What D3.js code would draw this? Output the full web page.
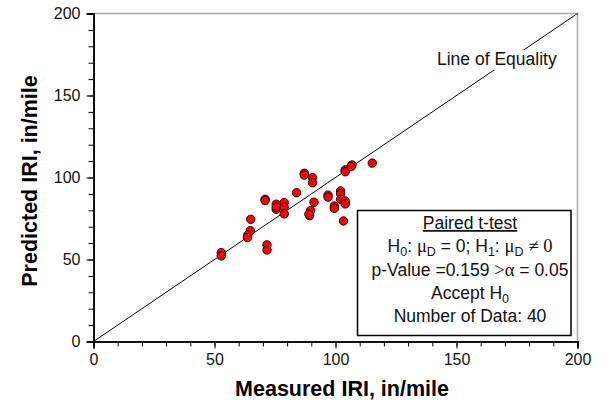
<!DOCTYPE html>
<html>
<head>
<meta charset="utf-8">
<script src="https://cdn.jsdelivr.net/npm/d3@7"></script>
<style>
  html, body { margin: 0; padding: 0; background: #fff; }
  svg { display: block; font-family: "Liberation Sans", Arial, sans-serif; }
</style>
</head>
<body>
<svg id="chart" width="616" height="406"></svg>
<script>
// ---- data ----
const measured = [52.8, 52.8, 71.7, 71.7, 65.0, 64.8, 63.8, 63.6, 70.9, 70.9,
                  75.5, 75.5, 78.8, 78.8, 78.8, 83.9, 87.1, 87.1, 90.5, 90.5,
                  91.1, 89.7, 89.3, 89.0, 96.9, 96.9, 99.5, 99.5, 102.1, 102.1,
                  102.1, 104.0, 104.0, 103.3, 104.0, 104.0, 106.8, 106.4, 115.2, 75.5];
const predicted = [54.2, 52.2, 58.9, 55.8, 74.5, 67.6, 65.0, 63.4, 86.7, 85.9,
                   83.7, 80.6, 84.7, 81.9, 77.8, 90.7, 102.6, 101.5, 99.9, 96.8,
                   84.9, 79.8, 76.7, 77.6, 89.2, 88.1, 82.6, 81.2, 91.8, 90.1,
                   86.7, 85.7, 83.9, 73.5, 104.6, 103.5, 107.6, 106.6, 108.8, 82.0];
const majorTicks = [0, 50, 100, 150, 200];
const minorTicks = d3.range(0, 201, 10);
const equalityLine = [0, 200];
const xTitle = "Measured IRI, in/mile";
const yTitle = "Predicted IRI, in/mile";
const lineLabel = "Line of Equality";

const svg = d3.select("#chart");
const x = d3.scaleLinear().domain([0, 200]).range([93.5, 577.5]);
const y = d3.scaleLinear().domain([0, 200]).range([341.5, 13.5]);

// frame (top/right gray)
svg.append("path")
  .attr("d", `M${x(0)},${y(200)}H${x(200)}V${y(0)}`)
  .attr("fill", "none").attr("stroke", "#a8a8a8").attr("stroke-width", 1.5);

// equality line
svg.append("line")
  .attr("x1", x(equalityLine[0])).attr("y1", y(equalityLine[0]))
  .attr("x2", x(equalityLine[1])).attr("y2", y(equalityLine[1]))
  .attr("stroke", "#000").attr("stroke-width", 1);

// label with white background
const lbl = svg.append("g");
const lblText = lbl.append("text")
  .attr("x", 437).attr("y", 65)
  .attr("font-size", 17.5).attr("fill", "#111")
  .text(lineLabel);
const bb = lblText.node().getBBox();
lbl.insert("rect", "text")
  .attr("x", bb.x - 2).attr("y", bb.y + 1).attr("width", bb.width + 4).attr("height", bb.height)
  .attr("fill", "#fff");

// axes
const xMinor = d3.axisBottom(x).tickValues(minorTicks).tickSize(5).tickFormat("");
const xMajor = d3.axisBottom(x).tickValues(majorTicks).tickSize(7).tickPadding(5);
const yMinor = d3.axisLeft(y).tickValues(minorTicks).tickSize(5).tickFormat("");
const yMajor = d3.axisLeft(y).tickValues(majorTicks).tickSize(7).tickPadding(6);

function style(g) {
  g.selectAll("path.domain").attr("stroke", "#000").attr("stroke-width", 1.5);
  g.selectAll(".tick line").attr("stroke", "#000").attr("stroke-width", 1);
  g.selectAll(".tick text").attr("font-size", 16).attr("fill", "#111")
    .attr("font-family", '"Liberation Sans", Arial, sans-serif');
}
svg.append("g").attr("transform", `translate(0,${y(0)})`).call(xMinor).call(style);
svg.append("g").attr("transform", `translate(0,${y(0)})`).call(xMajor).call(style);
svg.append("g").attr("transform", `translate(${x(0)},0)`).call(yMinor).call(style);
svg.append("g").attr("transform", `translate(${x(0)},0)`).call(yMajor).call(style);

// points
const pts = measured.map((m, i) => ({ m, p: predicted[i] }));
svg.append("g").selectAll("circle").data(pts).join("circle")
  .attr("cx", d => x(d.m)).attr("cy", d => y(d.p)).attr("r", 4.2)
  .attr("fill", "#ff0000").attr("stroke", "#2a0000").attr("stroke-width", 1);

// titles
svg.append("text")
  .attr("x", 342).attr("y", 396)
  .attr("text-anchor", "middle").attr("font-size", 21.5).attr("font-weight", "bold")
  .attr("fill", "#000").text(xTitle);
svg.append("text")
  .attr("transform", "translate(37,181) rotate(-90)")
  .attr("text-anchor", "middle").attr("font-size", 21.5).attr("font-weight", "bold")
  .attr("fill", "#000").text(yTitle);

// stats box
svg.append("rect")
  .attr("x", 357.5).attr("y", 210.5).attr("width", 213.5).attr("height", 125)
  .attr("fill", "#fff").attr("stroke", "#000").attr("stroke-width", 1.5);

const cx = 470;
const serif = '"Liberation Serif", "Times New Roman", serif';
function line(yy, parts) {
  const t = svg.append("text").attr("x", cx).attr("y", yy)
    .attr("text-anchor", "middle").attr("font-size", 17.5).attr("fill", "#111");
  parts.forEach(p => {
    const s = t.append("tspan").text(p.t);
    if (p.serif) s.attr("font-family", serif).attr("font-size", 18.5);
    if (p.sub) s.attr("font-size", 12.5).attr("dy", 4);
    if (p.up) s.attr("dy", -4);
  });
  return t;
}
line(229, [{ t: "Paired t-test" }]).attr("text-decoration", "underline");
line(252, [
  { t: "H" }, { t: "0", sub: true }, { t: ": ", up: true }, { t: "μ", serif: true },
  { t: "D", sub: true }, { t: " = 0; H", up: true }, { t: "1", sub: true },
  { t: ": ", up: true }, { t: "μ", serif: true }, { t: "D", sub: true },
  { t: " ", up: true }, { t: "≠ 0", serif: true }
]);
line(276, [{ t: "p-Value =0.159 " }, { t: ">α", serif: true }, { t: " = 0.05" }]);
line(299, [{ t: "Accept H" }, { t: "0", sub: true }]);
line(322, [{ t: "Number of Data: 40" }]);
</script>
</body>
</html>
